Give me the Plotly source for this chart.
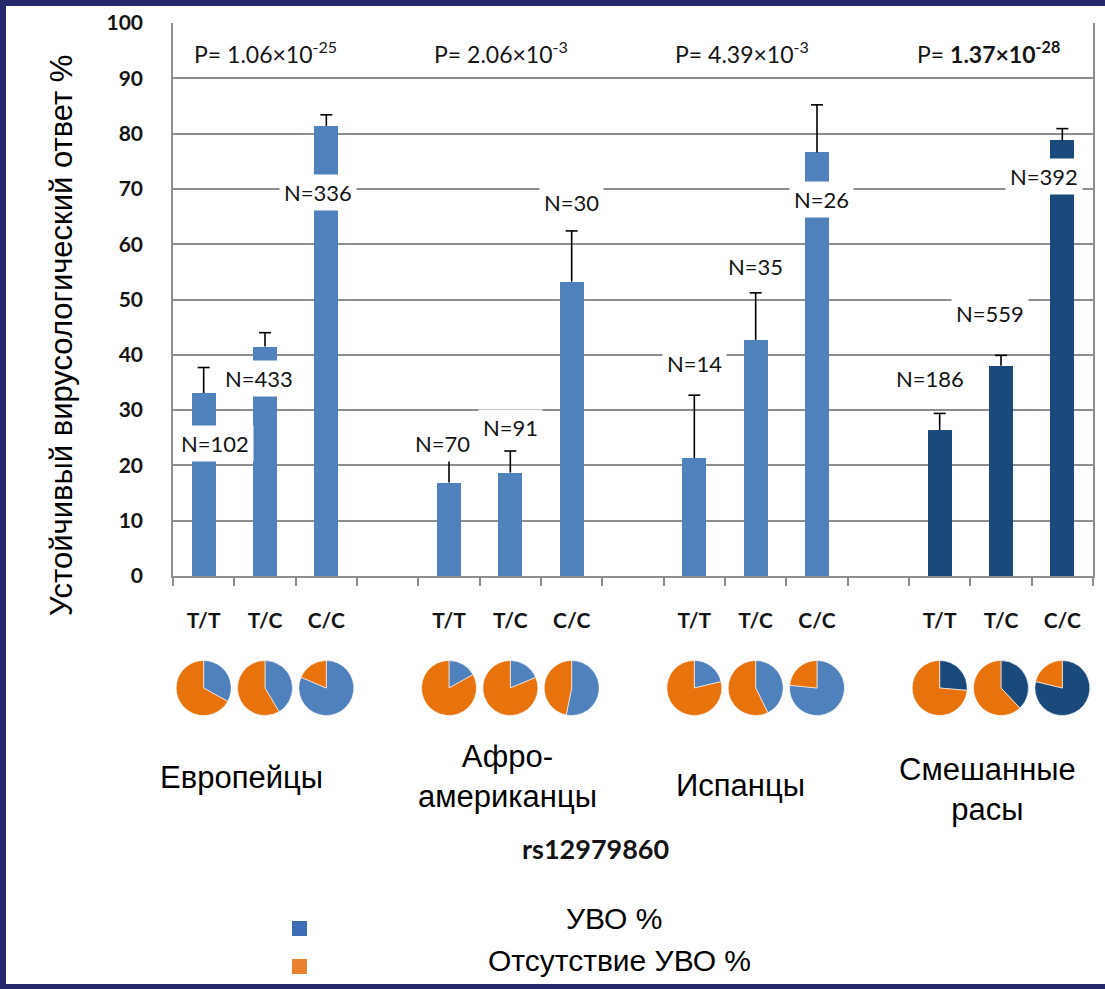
import plotly.graph_objects as go

# ---- data -------------------------------------------------------------
groups = ["Европейцы", "Афро-<br>американцы", "Испанцы", "Смешанные<br>расы"]
genotypes = ["T/T", "T/C", "C/C"]
p_values = [
    "P= 1.06×10<sup>-25</sup>",
    "P= 2.06×10<sup>-3</sup>",
    "P= 4.39×10<sup>-3</sup>",
    "P= <b>1.37×10<sup>-28</sup></b>",
]
svr_pct = [33.1, 41.5, 81.4, 16.9, 18.7, 53.2, 21.3, 42.7, 76.6, 26.4, 38.0, 78.8]
svr_err = [4.6, 2.5, 2.0, 4.4, 3.9, 9.2, 11.4, 8.5, 8.6, 3.0, 1.9, 2.1]
n_patients = [102, 433, 336, 70, 91, 30, 14, 35, 26, 186, 559, 392]
y_ticks = [0, 10, 20, 30, 40, 50, 60, 70, 80, 90, 100]
legend_labels = ["УВО %", "Отсутствие УВО %"]
axis_caption = "rs12979860"
y_title = "Устойчивый вирусологический ответ %"

# ---- layout helpers ---------------------------------------------------
W, H = 1105, 989
PLOT_L, PLOT_R, PLOT_T, PLOT_B = 173, 1093, 23, 576
N_SLOTS = 15
SLOT_W = (PLOT_R - PLOT_L) / N_SLOTS
CAP_HALF = 6 / SLOT_W  # error-bar cap half width, in slot units

LIGHT_BLUE = "#4F81BD"
DARK_BLUE = "#1A4A7B"
ORANGE = "#E8720C"
GRID = "#8E8E8E"
TXT = "#141414"
CAL = "Lato, 'Open Sans', sans-serif"
ARIAL = "'Liberation Sans', Arial, sans-serif"

def px_x(v):
    return v / W

def px_y(v):
    return (H - v) / H

# slot index of every bar: three genotypes per group, one empty slot between groups
slots = [g * 4 + k for g in range(len(groups)) for k in range(len(genotypes))]
bar_colors = [DARK_BLUE if g == 3 else LIGHT_BLUE
              for g in range(len(groups)) for _ in genotypes]
tick_text = [gt for _ in groups for gt in genotypes]

# N-label placement: horizontal shift (slots) and height (axis units)
n_label_dx = [0.18, -0.10, -0.13, -0.10, 0.0, 0.0, 0.0, 0.0, 0.08, -0.15, -0.18, -0.30]
n_label_y = [24.0, 35.8, 69.4, 24.0, 26.9, 67.6, 38.5, 55.9, 68.0, 35.8, 47.4, 72.2]
# p-value label shift from the group centre (slots)
p_label_dx = [0.0, -0.15, -0.23, -0.2]

# group caption placement in pixels (centre x, centre y)
group_label_pos = [(241, 777), (507, 776), (740, 785), (987, 789)]

fig = go.Figure()

fig.add_trace(go.Bar(
    x=slots,
    y=svr_pct,
    width=0.39,
    marker=dict(color=bar_colors, line=dict(width=0)),
    showlegend=False,
    hoverinfo="skip",
))

# upper error whiskers: stem from the bar top plus a cap
ex, ey = [], []
for s, v, e in zip(slots, svr_pct, svr_err):
    ex += [s, s, None, s - CAP_HALF, s + CAP_HALF, None]
    ey += [v, v + e, None, v + e, v + e, None]
fig.add_trace(go.Scatter(
    x=ex, y=ey, mode="lines",
    line=dict(color="black", width=1.6),
    showlegend=False, hoverinfo="skip",
))

# small pies under each genotype: SVR share vs. non-response share
PIE_CY = 688
PIE_R = 27.5
for s, val, col in zip(slots, svr_pct, bar_colors):
    cx = PLOT_L + (s + 0.5) * SLOT_W
    fig.add_trace(go.Pie(
        values=[val, 100 - val],
        labels=legend_labels,
        marker=dict(colors=[col, ORANGE], line=dict(color="white", width=0.6)),
        sort=False,
        direction="clockwise",
        rotation=0,
        textinfo="none",
        hoverinfo="skip",
        showlegend=False,
        domain=dict(x=[px_x(cx - PIE_R), px_x(cx + PIE_R)],
                    y=[px_y(PIE_CY + PIE_R), px_y(PIE_CY - PIE_R)]),
    ))

annotations = []

def paper_text(text, x, y, font, **kw):
    annotations.append(dict(
        x=px_x(x), y=px_y(y), xref="paper", yref="paper", text=text,
        showarrow=False, xanchor="center", yanchor="middle", font=font, **kw,
    ))

# p-values above each group
for g, (p, dx) in enumerate(zip(p_values, p_label_dx)):
    annotations.append(dict(
        x=g * 4 + 1 + dx, y=94.6, xref="x", yref="y", text=p, showarrow=False,
        xanchor="center", yanchor="middle",
        font=dict(family=CAL, size=23, color=TXT),
    ))

# sample sizes with white boxes
for s, n, dx, ly in zip(slots, n_patients, n_label_dx, n_label_y):
    annotations.append(dict(
        x=s + dx, y=ly, xref="x", yref="y", text=f"N={n}", showarrow=False,
        xanchor="center", yanchor="middle",
        font=dict(family=CAL, size=22, color=TXT),
        bgcolor="white", borderpad=4,
    ))

# group captions
for name, (gx, gy) in zip(groups, group_label_pos):
    paper_text(name, gx, gy, dict(family=ARIAL, size=31, color="black"),
               align="center")

paper_text(f"<b>{axis_caption}</b>", 595, 848,
           dict(family=CAL, size=27, color=TXT))

paper_text(y_title, 62, 336, dict(family=ARIAL, size=31, color="black"),
           textangle=-90)

# legend text
for lbl, (lx, ly) in zip(legend_labels, [(614, 918), (619, 960)]):
    paper_text(lbl, lx, ly, dict(family=ARIAL, size=30, color="black"))

shapes = [
    # white slide panel inside the navy frame
    dict(type="rect", xref="paper", yref="paper", layer="below",
         x0=px_x(6), x1=1, y0=px_y(984), y1=px_y(6),
         fillcolor="white", line=dict(width=0)),
    # legend swatches
    dict(type="rect", xref="paper", yref="paper",
         x0=px_x(292), x1=px_x(307), y0=px_y(936), y1=px_y(921),
         fillcolor="#3B6CB4", line=dict(width=0)),
    dict(type="rect", xref="paper", yref="paper",
         x0=px_x(292), x1=px_x(307), y0=px_y(974), y1=px_y(959),
         fillcolor="#EA8230", line=dict(width=0)),
]

fig.update_layout(
    width=W, height=H,
    margin=dict(l=0, r=0, t=0, b=0, autoexpand=False),
    paper_bgcolor="#26286C",
    plot_bgcolor="white",
    bargap=0,
    xaxis=dict(
        domain=[px_x(PLOT_L), px_x(PLOT_R)],
        range=[-0.5, N_SLOTS - 0.5],
        automargin=False,
        tickmode="array", tickvals=slots, ticktext=tick_text,
        ticks="", ticklabelstandoff=25,
        tickfont=dict(family=CAL, size=21, color=TXT, weight="bold"),
        showgrid=False, zeroline=False,
        showline=True, linecolor=GRID, linewidth=1.5,
        minor=dict(tickmode="array",
                   tickvals=[i - 0.5 for i in range(N_SLOTS + 1)],
                   ticks="outside", ticklen=8, tickcolor=GRID, tickwidth=1.5,
                   showgrid=False),
        fixedrange=True,
    ),
    yaxis=dict(
        domain=[px_y(PLOT_B), px_y(PLOT_T)],
        range=[0, 100],
        automargin=False,
        tickmode="array", tickvals=y_ticks,
        ticks="", ticklabelstandoff=24,
        tickfont=dict(family=CAL, size=21, color=TXT, weight="bold"),
        showgrid=True, gridcolor=GRID, gridwidth=1.5,
        zeroline=False,
        showline=True, linecolor=GRID, linewidth=1.5, mirror=True,
        fixedrange=True,
    ),
    annotations=annotations,
    shapes=shapes,
)

fig.write_html("out.html")
